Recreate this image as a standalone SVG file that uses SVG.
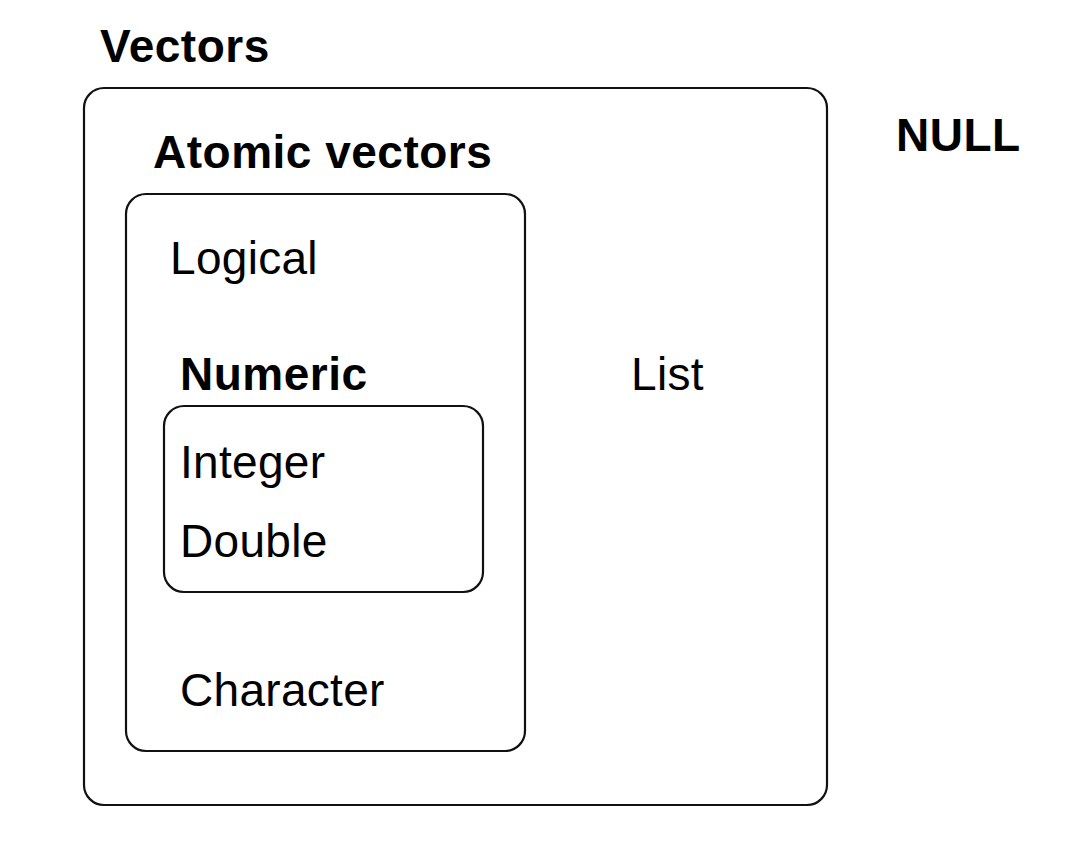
<svg xmlns="http://www.w3.org/2000/svg" width="1068" height="864" viewBox="0 0 1068 864">
  <style>
    .box { fill: none; stroke: #111; stroke-width: 2.2; }
    .lbl { font-family: "Liberation Sans", Arial, sans-serif; font-size: 46px; fill: #000; letter-spacing: 0.3px; }
    .b { font-weight: bold; letter-spacing: 0.5px; }
  </style>
  <rect width="1068" height="864" fill="#fff"/>

  <!-- outer container -->
  <g id="vectors">
    <text class="lbl b" x="100" y="62">Vectors</text>
    <rect class="box" x="84" y="88" width="743" height="717" rx="20"/>
  </g>

  <g id="null">
    <text class="lbl b" x="896" y="151">NULL</text>
  </g>

  <!-- atomic types -->
  <g id="atomic-vectors">
    <text class="lbl b" x="153" y="168">Atomic vectors</text>
    <rect class="box" x="126" y="194" width="399" height="557" rx="20"/>
  </g>

  <g id="logical">
    <text class="lbl" x="170" y="274">Logical</text>
  </g>

  <g id="numeric">
    <text class="lbl b" x="180" y="390">Numeric</text>
    <rect class="box" x="164" y="406" width="319" height="186" rx="20"/>
  </g>

  <g id="integer">
    <text class="lbl" x="180" y="478">Integer</text>
  </g>

  <g id="double">
    <text class="lbl" x="180" y="557">Double</text>
  </g>

  <g id="character">
    <text class="lbl" x="180" y="706">Character</text>
  </g>

  <g id="list">
    <text class="lbl" x="631" y="390">List</text>
  </g>

  <g id="connectors"></g>
</svg>
